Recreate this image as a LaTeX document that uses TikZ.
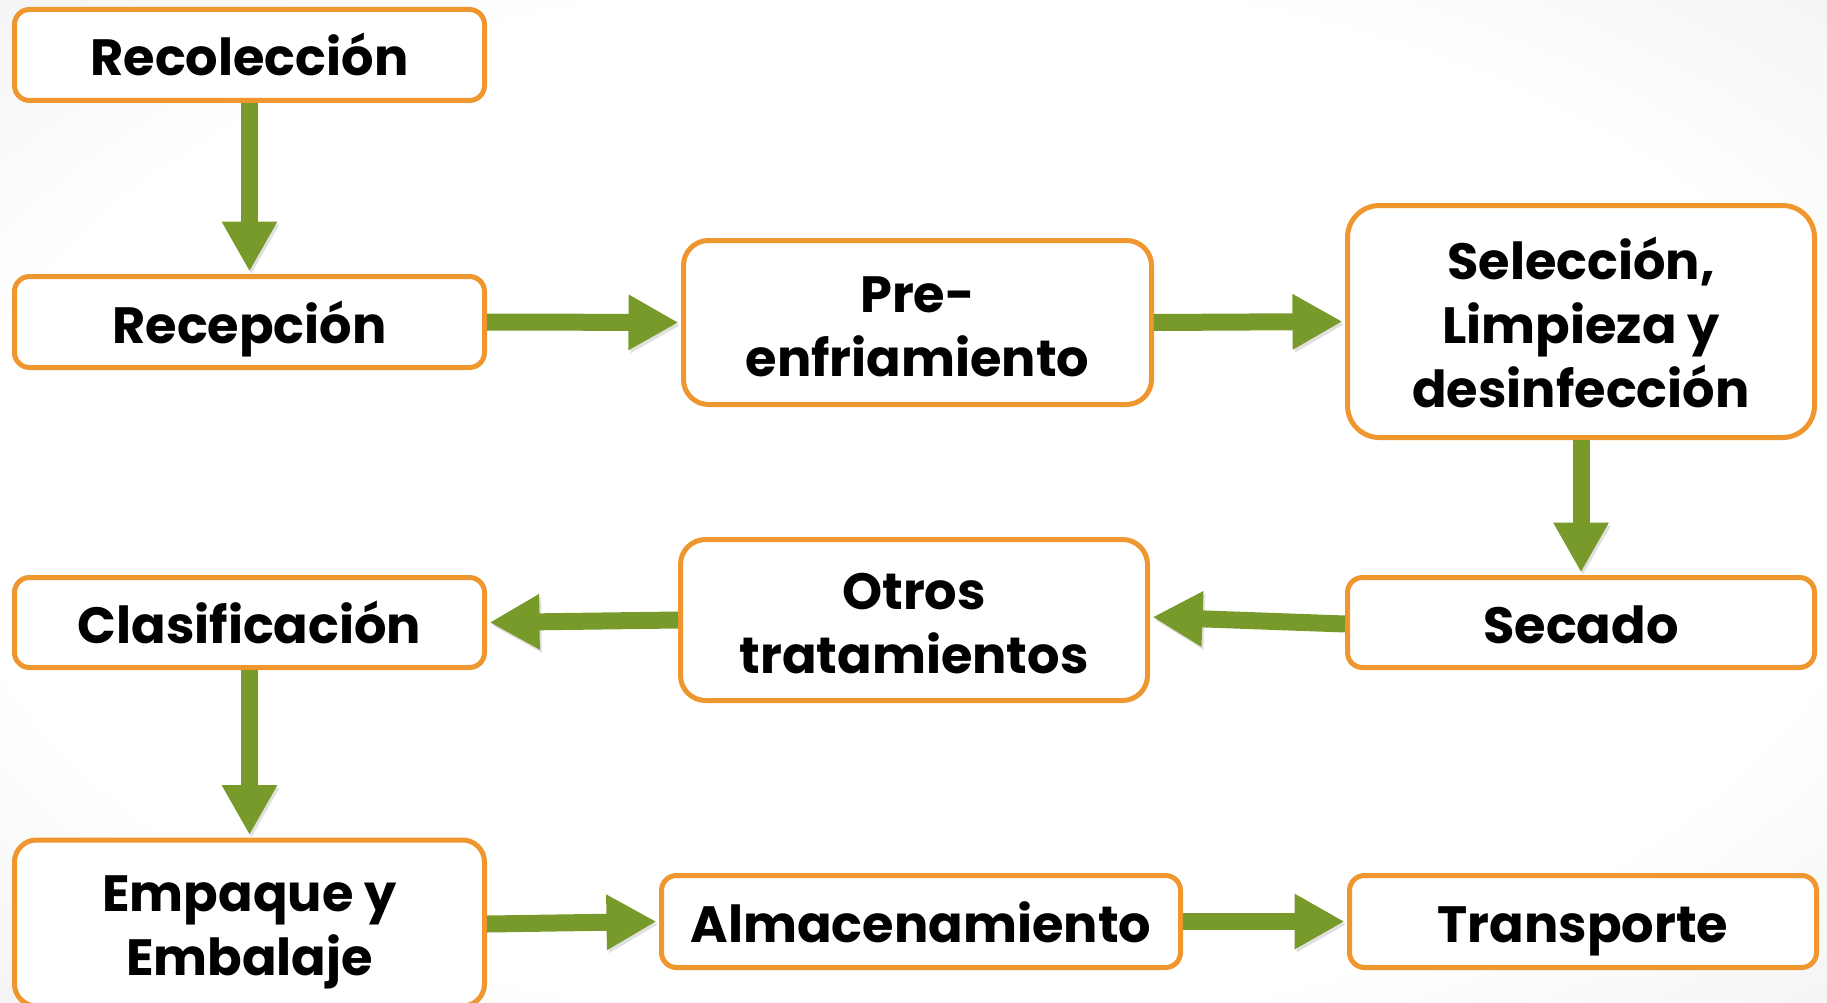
\documentclass[tikz,border=0pt]{standalone}
\usepackage{fontspec}
\setmainfont{Poppins}
\usetikzlibrary{arrows.meta}
\definecolor{boxorange}{HTML}{F0962E}
\definecolor{arrowgreen}{HTML}{779A2A}
\pgfdeclareradialshading{bgshade}{\pgfpoint{0bp}{0bp}}{color(0bp)=(white); color(26bp)=(white); color(72bp)=(black!20)}
\begin{document}
\begin{tikzpicture}[x=1pt,y=-1pt,
  box/.style={draw=boxorange, line width=5pt, fill=white, rounded corners=#1,
    align=center, inner sep=0pt, text depth=0pt, text height=42pt,
    font=\fontsize{51}{64}\selectfont\bfseries},
  box/.default=15pt,
  flow/.style={draw=arrowgreen, line width=17pt,
    -{Triangle[length=50pt,width=52pt]},
    shorten >=2.5pt,
    preaction={draw=black, opacity=0.12, transform canvas={shift={(2pt,-3pt)}}}}
]
\useasboundingbox (0,0) rectangle (1827,1003);
\shade[shading=bgshade] (0,0) rectangle (1827,1003);

\node[box=15pt, minimum width=470pt, minimum height=91pt] (rec) at (249.5,55) {Recolección};
\node[box=15pt, minimum width=470pt, minimum height=91pt] (recep) at (249.5,322) {Recepción};
\node[box=25pt, minimum width=468pt, minimum height=164pt, text height=108pt] (pre) at (917.5,322.5) {Pre-\\enfriamiento};
\node[box=32pt, minimum width=467pt, minimum height=232pt, text height=172pt] (sel) at (1581,321.5) {Selección,\\Limpieza y\\desinfección};
\node[box=15pt, minimum width=467pt, minimum height=90pt] (sec) at (1581,622.5) {Secado};
\node[box=25pt, minimum width=467pt, minimum height=161pt, text height=106pt] (otr) at (914,620) {Otros\\tratamientos};
\node[box=15pt, minimum width=470pt, minimum height=90pt] (cla) at (249.5,622.5) {Clasificación};
\node[box=22pt, minimum width=470pt, minimum height=166pt, text height=104pt] (emp) at (249.5,923) {Empaque y\\Embalaje};
\node[box=15pt, minimum width=519pt, minimum height=92pt] (alm) at (921,921.5) {Almacenamiento};
\node[box=15pt, minimum width=467pt, minimum height=92pt] (tra) at (1583,921.5) {Transporte};

\draw[flow] (rec.south) -- (recep.north);
\draw[flow] (recep.east) -- (pre.west);
\draw[flow] (pre.east) -- (sel.west);
\draw[flow] (sel.south) -- (sec.north);
\draw[flow] ([yshift=-1.5pt]sec.west) -- ([yshift=3pt]otr.east);
\draw[flow] (otr.west) -- (cla.east);
\draw[flow] (cla.south) -- (emp.north);
\draw[flow] ([yshift=-1pt]emp.east) -- (alm.west);
\draw[flow] (alm.east) -- (tra.west);
\end{tikzpicture}
\end{document}
